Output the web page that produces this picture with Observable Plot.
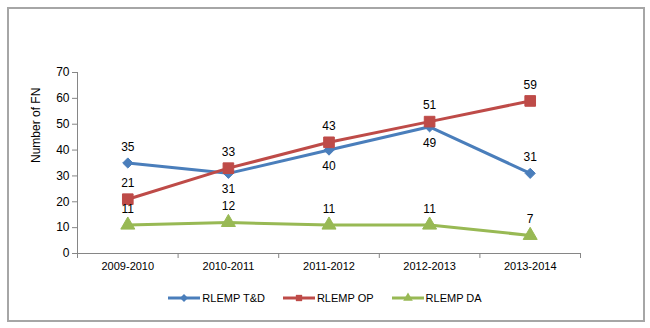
<!DOCTYPE html>
<html>
<head>
<meta charset="utf-8">
<script src="https://cdn.jsdelivr.net/npm/d3@7"></script>
<script src="https://cdn.jsdelivr.net/npm/@observablehq/plot@0.6"></script>
<style>
  html, body { margin: 0; padding: 0; background: #fff; }
  #wrap { position: relative; width: 650px; height: 328px; font-family: "Liberation Sans", Arial, sans-serif; }
  #frame { position: absolute; left: 7px; top: 7px; width: 634px; height: 311px; border: 2px solid #a6a6a6; box-sizing: content-box; }
  #chart { position: absolute; left: 0; top: 0; }
  #legend { position: absolute; left: 0; top: 292px; width: 650px; display: flex; justify-content: center; gap: 18px; font-size: 11px; color: #000; }
  .item { display: flex; align-items: center; gap: 2px; }
</style>
</head>
<body>
<div id="wrap">
  <div id="frame"></div>
  <div id="chart"></div>
  <div id="legend"></div>
</div>
<script>
const categories = ["2009-2010", "2010-2011", "2011-2012", "2012-2013", "2013-2014"];
const seriesNames = ["RLEMP T&D", "RLEMP OP", "RLEMP DA"];
const tdValues = [35, 31, 40, 49, 31];
const opValues = [21, 33, 43, 51, 59];
const daValues = [11, 12, 11, 11, 7];
const tdLabelSide = ["above", "below", "below", "below", "above"];
const opLabelSide = ["above", "above", "above", "above", "above"];
const daLabelSide = ["above", "above", "above", "above", "above"];
const yTicks = [0, 10, 20, 30, 40, 50, 60, 70];

const colors = ["#4a7ebb", "#be4b48", "#98b954"];
const symbols = ["diamond2", "square", "triangle"];
const radii = [4.6, 6.0, 5.2];

const rows = [];
[[tdValues, tdLabelSide], [opValues, opLabelSide], [daValues, daLabelSide]].forEach(([vals, sides], s) => {
  vals.forEach((v, i) => rows.push({series: seriesNames[s], idx: i, cat: categories[i], value: v, side: sides[i]}));
});

const marks = [];
marks.push(Plot.ruleY([0], {stroke: "#868686", strokeWidth: 1}));
marks.push(Plot.ruleX([-0.5], {stroke: "#868686", strokeWidth: 1}));
marks.push(Plot.axisX(d3.range(categories.length + 1).map(i => i - 0.5), {tickSize: 5, tickFormat: () => "", stroke: "#868686", label: null}));
marks.push(Plot.axisX(d3.range(categories.length), {tickSize: 0, tickPadding: 9, tickFormat: i => categories[i], fontSize: 11, fill: "#000", label: null}));
marks.push(Plot.axisY(yTicks, {tickSize: 5, tickPadding: 3, fontSize: 12, stroke: "#868686", fill: "#000", label: null}));

seriesNames.forEach((name, s) => {
  const data = rows.filter(d => d.series === name);
  marks.push(Plot.line(data, {x: "idx", y: "value", stroke: colors[s], strokeWidth: 3}));
});
seriesNames.forEach((name, s) => {
  const data = rows.filter(d => d.series === name);
  marks.push(Plot.dot(data, {x: "idx", y: "value", symbol: () => symbols[s], r: radii[s], fill: colors[s], stroke: colors[s], strokeWidth: 1}));
});
seriesNames.forEach((name, s) => {
  const data = rows.filter(d => d.series === name);
  marks.push(Plot.text(data.filter(d => d.side === "above"), {x: "idx", y: "value", text: d => String(d.value), dy: -16, fontSize: 12, fill: "#000"}));
  marks.push(Plot.text(data.filter(d => d.side === "below"), {x: "idx", y: "value", text: d => String(d.value), dy: 16, fontSize: 12, fill: "#000"}));
});
marks.push(Plot.text(["Number of FN"], {frameAnchor: "left", dx: -41, rotate: -90, fontSize: 12, fill: "#000"}));

const chart = Plot.plot({
  width: 650,
  height: 285,
  marginLeft: 77,
  marginRight: 70,
  marginTop: 72,
  marginBottom: 32,
  style: {fontFamily: "Liberation Sans, Arial, sans-serif", background: "transparent", overflow: "visible"},
  x: {type: "linear", domain: [-0.5, categories.length - 0.5], axis: null, label: null},
  y: {domain: [0, 70], axis: null, label: null},
  marks
});
document.getElementById("chart").appendChild(chart);

const legend = document.getElementById("legend");
seriesNames.forEach((name, s) => {
  const item = document.createElement("div");
  item.className = "item";
  const svg = d3.create("svg").attr("width", 32).attr("height", 12);
  svg.append("line").attr("x1", 0).attr("x2", 32).attr("y1", 6).attr("y2", 6).attr("stroke", colors[s]).attr("stroke-width", 3);
  const sym = {diamond2: d3.symbolDiamond2, square: d3.symbolSquare, triangle: d3.symbolTriangle}[symbols[s]];
  svg.append("path").attr("transform", "translate(16,6)").attr("d", d3.symbol(sym, 40)()).attr("fill", colors[s]);
  item.appendChild(svg.node());
  const span = document.createElement("span");
  span.textContent = name;
  item.appendChild(span);
  legend.appendChild(item);
});
</script>
</body>
</html>
